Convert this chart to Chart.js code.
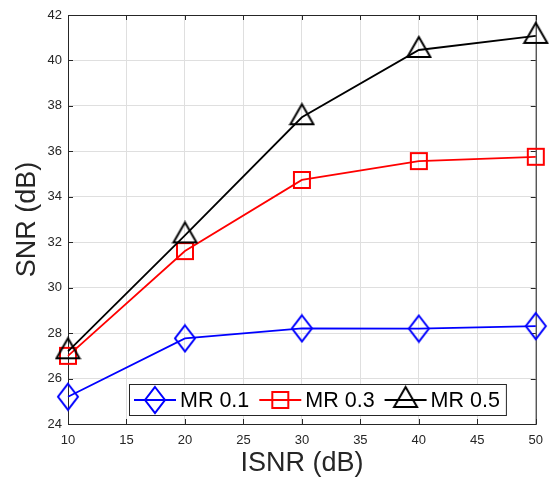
<!DOCTYPE html>
<html>
<head>
<meta charset="utf-8">
<script src="https://cdn.jsdelivr.net/npm/chart.js@4.4.0/dist/chart.umd.min.js"></script>
<style>
  html, body { margin: 0; padding: 0; background: #fff; }
</style>
</head>
<body>
<canvas id="snrChart" width="552" height="481"></canvas>
<script>
// data
const isnr   = [10, 20, 30, 40, 50];
const mr01   = [25.2, 27.77, 28.21, 28.2, 28.31];
const mr03   = [27.0, 31.61, 34.74, 35.57, 35.76];
const mr05   = [27.2, 32.3, 37.5, 40.46, 41.08];
const labels = ['MR 0.1', 'MR 0.3', 'MR 0.5'];
const xRange = [10, 50];
const yRange = [24, 42];

const FONT = "'Liberation Sans', Arial, Helvetica, sans-serif";
const AXIS = '#262626';

// MATLAB-like marker glyphs
function makeMarker(kind, color) {
    const c = document.createElement('canvas');
    let w, h;
    if (kind === 'diamond') { w = 24; h = 30; }
    else if (kind === 'square') { w = 20; h = 20; }
    else { w = 27; h = 30; }
    c.width = w; c.height = h;
    const g = c.getContext('2d');
    g.strokeStyle = color;
    g.lineWidth = 2;
    g.beginPath();
    if (kind === 'diamond') {
        g.moveTo(12, 2); g.lineTo(22, 15); g.lineTo(12, 28); g.lineTo(2, 15);
    } else if (kind === 'square') {
        g.rect(2, 2, 16, 16);
    } else {
        // apex on top, centroid at canvas centre
        g.moveTo(13.5, 2); g.lineTo(25, 22); g.lineTo(2, 22);
    }
    g.closePath();
    g.stroke();
    return c;
}

const styles = [
    { color: '#0000ff', marker: makeMarker('diamond', '#0000ff') },
    { color: '#ff0000', marker: makeMarker('square', '#ff0000') },
    { color: '#000000', marker: makeMarker('triangle', '#000000') }
];

const toPoints = (ys) => isnr.map((x, i) => ({ x: x, y: ys[i] }));

// axes box with inward ticks on all four sides
const framePlugin = {
    id: 'frame',
    beforeDatasetsDraw(chart) {
        const { ctx, chartArea: a, scales } = chart;
        ctx.save();
        ctx.strokeStyle = AXIS;
        ctx.lineWidth = 1;
        ctx.strokeRect(a.left + 0.5, a.top + 0.5, a.right - a.left, a.bottom - a.top);
        ctx.beginPath();
        scales.x.ticks.forEach(t => {
            const px = Math.round(scales.x.getPixelForValue(t.value)) + 0.5;
            ctx.moveTo(px, a.bottom); ctx.lineTo(px, a.bottom - 5);
            ctx.moveTo(px, a.top); ctx.lineTo(px, a.top + 5);
        });
        scales.y.ticks.forEach(t => {
            const py = Math.round(scales.y.getPixelForValue(t.value)) + 0.5;
            ctx.moveTo(a.left, py); ctx.lineTo(a.left + 5, py);
            ctx.moveTo(a.right, py); ctx.lineTo(a.right - 5, py);
        });
        ctx.stroke();
        ctx.restore();
    }
};

// legend box inside the axes, near the bottom
const boxLegend = {
    id: 'boxLegend',
    afterDatasetsDraw(chart) {
        const { ctx, chartArea: a } = chart;
        ctx.save();
        ctx.font = '21.5px ' + FONT;
        const lineLen = 42, gapText = 4, gapItem = 10, padL = 5, padR = 6;
        let total = padL + padR;
        chart.data.datasets.forEach((ds, i) => {
            total += lineLen + gapText + ctx.measureText(ds.label).width;
            if (i > 0) total += gapItem;
        });
        const h = 31;
        const left = a.left + 61;
        const top = a.bottom - 9 - h;
        ctx.fillStyle = '#fff';
        ctx.fillRect(left, top, total, h);
        ctx.strokeStyle = AXIS;
        ctx.lineWidth = 1;
        ctx.strokeRect(left + 0.5, top + 0.5, total, h);
        const cy = top + h / 2 + 0.5;
        let x = left + padL;
        chart.data.datasets.forEach((ds, i) => {
            ctx.strokeStyle = ds.borderColor;
            ctx.lineWidth = 2;
            ctx.beginPath();
            ctx.moveTo(x, cy); ctx.lineTo(x + lineLen, cy);
            ctx.stroke();
            const m = ds.pointStyle;
            ctx.drawImage(m, x + lineLen / 2 - m.width / 2, cy - m.height / 2);
            x += lineLen + gapText;
            ctx.fillStyle = '#000';
            ctx.textBaseline = 'middle';
            ctx.textAlign = 'left';
            ctx.fillText(ds.label, x, cy + 1);
            x += ctx.measureText(ds.label).width + gapItem;
        });
        ctx.restore();
    }
};

new Chart(document.getElementById('snrChart'), {
    type: 'line',
    data: {
        datasets: [mr01, mr03, mr05].map((ys, i) => ({
            label: labels[i],
            data: toPoints(ys),
            borderColor: styles[i].color,
            backgroundColor: styles[i].color,
            borderWidth: 1.8,
            pointStyle: styles[i].marker,
            pointRadius: 10,
            tension: 0,
            clip: false,
            order: 2 - i
        }))
    },
    options: {
        responsive: false,
        animation: false,
        layout: {
            padding: { top: 15, right: 16, bottom: 0, left: 0 }
        },
        scales: {
            x: {
                type: 'linear',
                min: xRange[0],
                max: xRange[1],
                afterFit: (s) => { s.height = 57; },
                border: { display: false },
                grid: { color: '#dfdfdf', drawTicks: false },
                ticks: {
                    stepSize: 5,
                    padding: 9,
                    color: AXIS,
                    font: { family: FONT, size: 13 }
                },
                title: {
                    display: true,
                    text: 'ISNR (dB)',
                    color: AXIS,
                    padding: { top: 0, bottom: 1 },
                    font: { family: FONT, size: 27 }
                }
            },
            y: {
                min: yRange[0],
                max: yRange[1],
                afterFit: (s) => { s.width = 68; },
                border: { display: false },
                grid: { color: '#dfdfdf', drawTicks: false },
                ticks: {
                    stepSize: 2,
                    padding: 6,
                    color: AXIS,
                    font: { family: FONT, size: 13 }
                },
                title: {
                    display: true,
                    text: 'SNR (dB)',
                    color: AXIS,
                    padding: { top: 11, bottom: 0 },
                    font: { family: FONT, size: 27 }
                }
            }
        },
        plugins: {
            legend: { display: false },
            tooltip: { enabled: false }
        }
    },
    plugins: [framePlugin, boxLegend]
});
</script>
</body>
</html>
